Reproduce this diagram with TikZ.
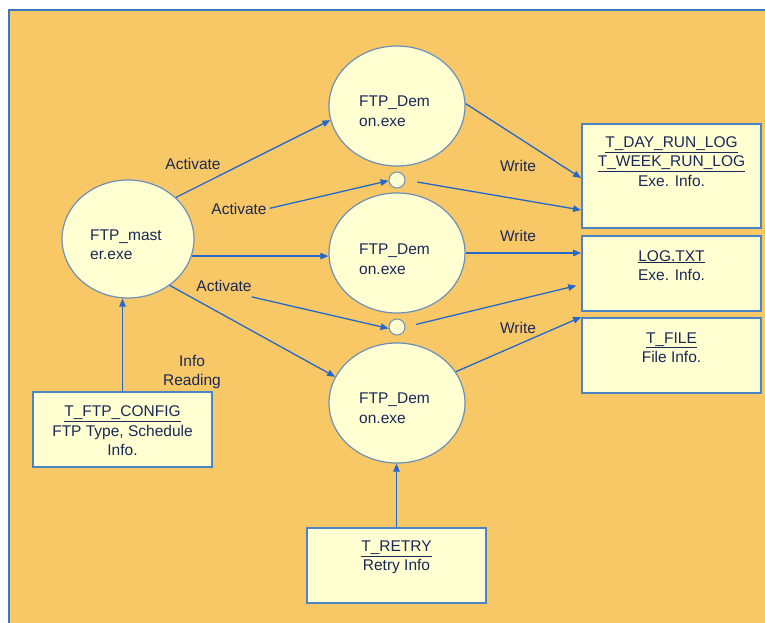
\documentclass[tikz,border=0pt]{standalone}
\usepackage{fontspec}
\setmainfont{Liberation Sans}
\usetikzlibrary{shapes.geometric,arrows.meta,calc}
\definecolor{bgorange}{HTML}{F8C866}
\definecolor{boxfill}{HTML}{FFFFD2}
\definecolor{boxline}{HTML}{4A84C4}
\definecolor{circline}{HTML}{6C90B8}
\definecolor{arrowblue}{HTML}{2468CC}
\definecolor{txtnavy}{HTML}{1A2858}
\definecolor{frameblue}{HTML}{3A78C0}
\begin{document}
\begin{tikzpicture}[x=1pt,y=-1pt,
  proc/.style={ellipse, draw=circline, line width=1.2pt, fill=boxfill, minimum width=136pt, minimum height=120pt, inner sep=0pt},
  junction/.style={circle, draw=circline, line width=1pt, fill=boxfill, minimum size=16pt, inner sep=0pt},
  store/.style={rectangle, draw=boxline, line width=1.8pt, fill=boxfill, minimum width=179pt, inner sep=0pt},
  txt/.style={text=txtnavy, font=\fontsize{15.5}{19.5}\selectfont, inner sep=0pt, align=center},
  ltxt/.style={txt, align=left, anchor=west},
  flow/.style={draw=arrowblue, line width=1.3pt, -{Triangle[length=8pt,width=6.5pt]}},
]
\useasboundingbox (0,0) rectangle (765,623);
\fill[white] (0,0) rectangle (765,623);
\fill[bgorange] (9,10) rectangle (765,623);
\draw[frameblue, line width=2pt] (9,623) -- (9,10) -- (765,10);

% process ellipses
\node[proc, minimum width=132pt, minimum height=118pt] (master) at (128,239) {};
\node[proc] (d1) at (397,106) {};
\node[proc] (d2) at (397,253) {};
\node[proc] (d3) at (397,403) {};
\node[ltxt] (mastert) at (90,244.5) {FTP\_mast\\er.exe};
\node[ltxt] (d1t) at (359,111) {FTP\_Dem\\on.exe};
\node[ltxt] (d2t) at (359,259) {FTP\_Dem\\on.exe};
\node[ltxt] (d3t) at (359,408) {FTP\_Dem\\on.exe};

% junctions
\node[junction] (s1) at (397,180) {};
\node[junction] (s2) at (397,327) {};

% stores
\node[store, minimum height=104pt] (day) at (671.5,176) {};
\node[store, minimum height=75pt] (log) at (671.5,273.5) {};
\node[store, minimum height=75pt] (file) at (671.5,355.5) {};
\node[store, minimum height=75pt] (cfg) at (122.5,429.5) {};
\node[store, minimum height=75pt] (retry) at (396.5,565.5) {};
\node[txt] (dayt) at (671.5,161.5) {\underline{T\_DAY\_RUN\_LOG}\\\underline{T\_WEEK\_RUN\_LOG}\\Exe. Info.};
\node[txt] (logt) at (671.5,265.5) {\underline{LOG.TXT}\\Exe. Info.};
\node[txt] (filet) at (671.5,347.5) {\underline{T\_FILE}\\File Info.};
\node[txt] (cfgt) at (122.5,431) {\underline{T\_FTP\_CONFIG}\\FTP Type, Schedule\\Info.};
\node[txt] (retryt) at (396.5,557.5) {\underline{T\_RETRY}\\Retry Info};

% labels
\node[txt] (act1) at (193,164) {Activate};
\node[txt] (act2) at (239,209) {Activate};
\node[txt] (act3) at (224,286) {Activate};
\node[txt] (wr1) at (518,166) {Write};
\node[txt] (wr2) at (518,236) {Write};
\node[txt] (wr3) at (518,328) {Write};
\node[txt] (info) at (192,372) {Info\\Reading};

% connectors
\draw[flow] (master.41) -- (d1.192);
\draw[flow, shorten <=3pt] (act2.east) -- (s1.185);
\draw[flow] (master.-15) -- (master.-15 -| d2.west);
\draw[flow] ($(act3.south east)+(0,5)$) -- (s2.190);
\draw[flow] (master.-48) -- (d3.157);
\draw[flow] (cfg.north) -- (cfg.north |- master.south);
\draw[flow] (retry.north) -- (retry.north |- d3.south);
\draw[flow] (d1.2) -- ($(day.west)+(0,2)$);
\draw[flow, shorten <=12pt] (s1.east) -- ($(day.west)+(0,34)$);
\draw[flow] (d2.east) -- (d2.east -| log.west);
\draw[flow, shorten <=11pt, shorten >=5pt] (s2.east) -- ($(log.west)+(0,11)$);
\draw[flow] (d3.28) -- (file.north west);
\end{tikzpicture}
\end{document}
